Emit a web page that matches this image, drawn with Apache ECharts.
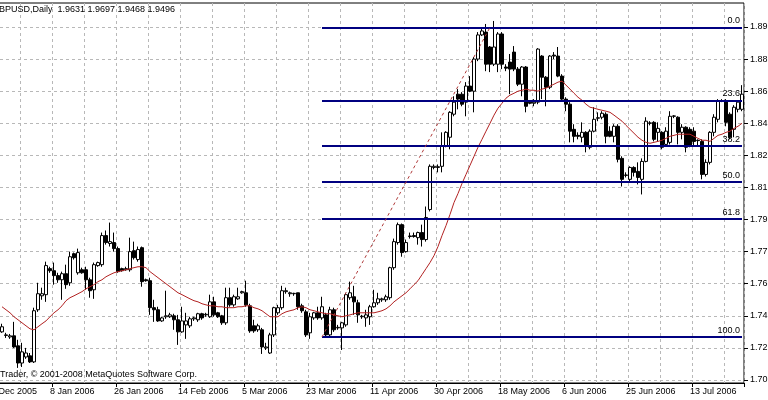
<!DOCTYPE html>
<html>
<head>
<meta charset="utf-8">
<title>GBPUSD Daily</title>
<script src="https://cdn.jsdelivr.net/npm/echarts@6/dist/echarts.min.js"></script>
<style>
  html, body { margin: 0; padding: 0; background: #fff; }
  #chart { width: 768px; height: 400px; }
</style>
</head>
<body>
<div id="chart"></div>
<script>
// daily bars, Sunday to Friday (no Saturday bars). The first three bars sit left of the frame.
const firstDay = new Date(2005, 11, 20)
const barCount = 189
const hiddenBars = 3
const monthNames = ['Jan', 'Feb', 'Mar', 'Apr', 'May', 'Jun', 'Jul', 'Aug', 'Sep', 'Oct', 'Nov', 'Dec']

const dates = []
for (let d = new Date(firstDay); dates.length < barCount; d.setDate(d.getDate() + 1)) {
  if (d.getDay() === 6) continue
  dates.push(d.getDate() + ' ' + monthNames[d.getMonth()] + ' ' + d.getFullYear())
}

// visible bars, 23 Dec 2005 .. 27 Jul 2006
const openP = [
  1.7255, 1.7236, 1.7228, 1.7234, 1.7181, 1.7090, 1.7122, 1.7128, 1.7096, 1.7372, 1.7446, 1.7452,
  1.7590, 1.7579, 1.7553, 1.7531, 1.7563, 1.7515, 1.7669, 1.7568, 1.7584, 1.7584, 1.7531, 1.7478,
  1.7606, 1.7611, 1.7765, 1.7723, 1.7728, 1.7696, 1.7590, 1.7584, 1.7584, 1.7685, 1.7638, 1.7701,
  1.7531, 1.7526, 1.7383, 1.7372, 1.7313, 1.7335, 1.7335, 1.7340, 1.7319, 1.7255, 1.7292, 1.7287,
  1.7324, 1.7319, 1.7351, 1.7345, 1.7335, 1.7414, 1.7356, 1.7340, 1.7303, 1.7436, 1.7398, 1.7430,
  1.7462, 1.7462, 1.7393, 1.7287, 1.7266, 1.7266, 1.7170, 1.7143, 1.7239, 1.7356, 1.7383, 1.7468,
  1.7457, 1.7457, 1.7462, 1.7393, 1.7361, 1.7250, 1.7329, 1.7356, 1.7329, 1.7345, 1.7239, 1.7372,
  1.7276, 1.7276, 1.7292, 1.7436, 1.7441, 1.7409, 1.7335, 1.7329, 1.7335, 1.7388, 1.7409, 1.7425,
  1.7425, 1.7436, 1.7595, 1.7728, 1.7823, 1.7680, 1.7760, 1.7765, 1.7754, 1.7781, 1.7744, 1.7903,
  1.8126, 1.8126, 1.8132, 1.8238, 1.8286, 1.8408, 1.8514, 1.8514, 1.8472, 1.8557, 1.8530, 1.8700,
  1.8828, 1.8843, 1.8764, 1.8673, 1.8673, 1.8833, 1.8658, 1.8684, 1.8737, 1.8647, 1.8567, 1.8658,
  1.8472, 1.8466, 1.8472, 1.8716, 1.8604, 1.8551, 1.8721, 1.8716, 1.8610, 1.8488, 1.8461, 1.8328,
  1.8296, 1.8286, 1.8312, 1.8233, 1.8318, 1.8387, 1.8392, 1.8408, 1.8318, 1.8291, 1.8344, 1.8174,
  1.8084, 1.8063, 1.8126, 1.8105, 1.8063, 1.8158, 1.8360, 1.8365, 1.8312, 1.8312, 1.8248, 1.8259,
  1.8397, 1.8392, 1.8312, 1.8339, 1.8328, 1.8318, 1.8270, 1.8264, 1.8089, 1.8153, 1.8312, 1.8381,
  1.8477, 1.8477, 1.8408, 1.8328, 1.8434, 1.8434
]
const closeP = [
  1.7282, 1.7239, 1.7234, 1.7175, 1.7090, 1.7149, 1.7143, 1.7096, 1.7367, 1.7457, 1.7457, 1.7606,
  1.7579, 1.7553, 1.7531, 1.7563, 1.7505, 1.7653, 1.7648, 1.7675, 1.7568, 1.7531, 1.7473, 1.7611,
  1.7622, 1.7765, 1.7728, 1.7733, 1.7696, 1.7574, 1.7579, 1.7590, 1.7680, 1.7648, 1.7691, 1.7521,
  1.7526, 1.7383, 1.7372, 1.7313, 1.7329, 1.7340, 1.7345, 1.7319, 1.7255, 1.7313, 1.7313, 1.7324,
  1.7329, 1.7351, 1.7329, 1.7348, 1.7414, 1.7345, 1.7335, 1.7303, 1.7436, 1.7398, 1.7441, 1.7441,
  1.7468, 1.7398, 1.7260, 1.7260, 1.7287, 1.7175, 1.7175, 1.7239, 1.7383, 1.7383, 1.7473, 1.7473,
  1.7462, 1.7459, 1.7388, 1.7367, 1.7239, 1.7335, 1.7356, 1.7329, 1.7388, 1.7239, 1.7372, 1.7266,
  1.7279, 1.7303, 1.7452, 1.7462, 1.7414, 1.7345, 1.7338, 1.7345, 1.7388, 1.7409, 1.7430, 1.7430,
  1.7441, 1.7595, 1.7733, 1.7823, 1.7675, 1.7728, 1.7763, 1.7760, 1.7781, 1.7744, 1.7861, 1.8132,
  1.8132, 1.8130, 1.8238, 1.8312, 1.8418, 1.8472, 1.8488, 1.8461, 1.8557, 1.8530, 1.8700, 1.8828,
  1.8849, 1.8673, 1.8673, 1.8764, 1.8833, 1.8673, 1.8652, 1.8647, 1.8647, 1.8567, 1.8658, 1.8450,
  1.8466, 1.8472, 1.8753, 1.8604, 1.8551, 1.8716, 1.8716, 1.8610, 1.8488, 1.8461, 1.8318, 1.8291,
  1.8291, 1.8312, 1.8238, 1.8318, 1.8381, 1.8389, 1.8413, 1.8291, 1.8291, 1.8344, 1.8169, 1.8063,
  1.8086, 1.8126, 1.8100, 1.8073, 1.8158, 1.8371, 1.8362, 1.8275, 1.8333, 1.8233, 1.8318, 1.8397,
  1.8399, 1.8312, 1.8339, 1.8233, 1.8238, 1.8264, 1.8268, 1.8089, 1.8153, 1.8312, 1.8392, 1.8477,
  1.8479, 1.8365, 1.8286, 1.8445, 1.8472, 1.8514
]
const lowP = [
  1.7250, 1.7223, 1.7218, 1.7170, 1.7064, 1.7069, 1.7112, 1.7090, 1.7090, 1.7361, 1.7425, 1.7414,
  1.7568, 1.7505, 1.7515, 1.7425, 1.7483, 1.7499, 1.7638, 1.7558, 1.7563, 1.7478, 1.7436, 1.7430,
  1.7600, 1.7600, 1.7717, 1.7707, 1.7680, 1.7568, 1.7574, 1.7579, 1.7574, 1.7638, 1.7627, 1.7494,
  1.7521, 1.7345, 1.7308, 1.7308, 1.7308, 1.7324, 1.7329, 1.7266, 1.7186, 1.7250, 1.7218, 1.7276,
  1.7313, 1.7308, 1.7319, 1.7335, 1.7329, 1.7335, 1.7329, 1.7292, 1.7292, 1.7388, 1.7388, 1.7425,
  1.7457, 1.7388, 1.7250, 1.7250, 1.7255, 1.7138, 1.7159, 1.7138, 1.7228, 1.7345, 1.7372, 1.7457,
  1.7441, 1.7446, 1.7372, 1.7356, 1.7228, 1.7218, 1.7319, 1.7319, 1.7319, 1.7228, 1.7228, 1.7255,
  1.7266, 1.7159, 1.7282, 1.7425, 1.7345, 1.7303, 1.7324, 1.7282, 1.7292, 1.7383, 1.7398, 1.7414,
  1.7414, 1.7425, 1.7584, 1.7717, 1.7653, 1.7675, 1.7749, 1.7754, 1.7717, 1.7707, 1.7733, 1.7893,
  1.8116, 1.8100, 1.8100, 1.8233, 1.8222, 1.8397, 1.8434, 1.8450, 1.8397, 1.8525, 1.8418, 1.8689,
  1.8822, 1.8636, 1.8631, 1.8663, 1.8631, 1.8647, 1.8636, 1.8514, 1.8636, 1.8557, 1.8503, 1.8418,
  1.8461, 1.8450, 1.8461, 1.8488, 1.8450, 1.8541, 1.8700, 1.8604, 1.8477, 1.8424, 1.8259, 1.8259,
  1.8275, 1.8259, 1.8206, 1.8222, 1.8312, 1.8371, 1.8381, 1.8254, 1.8286, 1.8259, 1.8153, 1.8025,
  1.8073, 1.8052, 1.8078, 1.8036, 1.7983, 1.8153, 1.8349, 1.8264, 1.8264, 1.8222, 1.8238, 1.8248,
  1.8387, 1.8248, 1.8275, 1.8206, 1.8233, 1.8238, 1.8238, 1.8063, 1.8078, 1.8142, 1.8291, 1.8365,
  1.8472, 1.8344, 1.8275, 1.8286, 1.8418, 1.8424
]
const highP = [
  1.7298, 1.7250, 1.7244, 1.7308, 1.7213, 1.7197, 1.7170, 1.7143, 1.7383, 1.7515, 1.7489, 1.7627,
  1.7600, 1.7622, 1.7568, 1.7574, 1.7611, 1.7680, 1.7675, 1.7696, 1.7595, 1.7600, 1.7542, 1.7622,
  1.7627, 1.7781, 1.7792, 1.7834, 1.7781, 1.7707, 1.7595, 1.7600, 1.7754, 1.7733, 1.7707, 1.7707,
  1.7537, 1.7542, 1.7425, 1.7388, 1.7335, 1.7473, 1.7356, 1.7351, 1.7345, 1.7388, 1.7356, 1.7335,
  1.7335, 1.7356, 1.7356, 1.7356, 1.7452, 1.7441, 1.7361, 1.7345, 1.7489, 1.7489, 1.7452, 1.7489,
  1.7473, 1.7526, 1.7404, 1.7319, 1.7298, 1.7276, 1.7197, 1.7250, 1.7388, 1.7398, 1.7499, 1.7489,
  1.7468, 1.7462, 1.7462, 1.7404, 1.7372, 1.7356, 1.7361, 1.7388, 1.7441, 1.7356, 1.7388, 1.7383,
  1.7292, 1.7308, 1.7462, 1.7521, 1.7499, 1.7425, 1.7345, 1.7372, 1.7398, 1.7478, 1.7462, 1.7436,
  1.7452, 1.7600, 1.7749, 1.7834, 1.7829, 1.7744, 1.7781, 1.7781, 1.7786, 1.7823, 1.7919, 1.8142,
  1.8142, 1.8142, 1.8312, 1.8318, 1.8424, 1.8503, 1.8541, 1.8525, 1.8578, 1.8610, 1.8711, 1.8843,
  1.8870, 1.8886, 1.8769, 1.8902, 1.8843, 1.8843, 1.8673, 1.8727, 1.8769, 1.8658, 1.8663, 1.8663,
  1.8477, 1.8488, 1.8758, 1.8721, 1.8610, 1.8721, 1.8737, 1.8764, 1.8620, 1.8498, 1.8472, 1.8355,
  1.8312, 1.8365, 1.8318, 1.8328, 1.8445, 1.8418, 1.8424, 1.8418, 1.8344, 1.8355, 1.8355, 1.8185,
  1.8100, 1.8132, 1.8132, 1.8153, 1.8174, 1.8392, 1.8371, 1.8371, 1.8365, 1.8318, 1.8339, 1.8424,
  1.8403, 1.8397, 1.8355, 1.8344, 1.8339, 1.8339, 1.8275, 1.8275, 1.8169, 1.8318, 1.8408, 1.8488,
  1.8488, 1.8488, 1.8418, 1.8456, 1.8482, 1.8562
]
// moving average line as drawn on the chart
const maP = [
  1.7388, 1.7372, 1.7356, 1.7335, 1.7319, 1.7303, 1.7287, 1.7271, 1.7266, 1.7282, 1.7298, 1.7313,
  1.7335, 1.7356, 1.7372, 1.7393, 1.7420, 1.7436, 1.7446, 1.7457, 1.7468, 1.7483, 1.7494, 1.7505,
  1.7521, 1.7531, 1.7547, 1.7558, 1.7568, 1.7574, 1.7579, 1.7584, 1.7590, 1.7595, 1.7600, 1.7600,
  1.7595, 1.7574, 1.7558, 1.7542, 1.7526, 1.7510, 1.7494, 1.7478, 1.7462, 1.7452, 1.7441, 1.7430,
  1.7420, 1.7414, 1.7404, 1.7398, 1.7393, 1.7393, 1.7388, 1.7388, 1.7383, 1.7383, 1.7383, 1.7388,
  1.7388, 1.7393, 1.7393, 1.7383, 1.7377, 1.7367, 1.7351, 1.7335, 1.7335, 1.7335, 1.7351, 1.7361,
  1.7367, 1.7372, 1.7383, 1.7388, 1.7383, 1.7372, 1.7367, 1.7361, 1.7356, 1.7351, 1.7351, 1.7345,
  1.7340, 1.7335, 1.7340, 1.7345, 1.7351, 1.7356, 1.7356, 1.7356, 1.7356, 1.7356, 1.7361, 1.7367,
  1.7377, 1.7393, 1.7414, 1.7430, 1.7446, 1.7462, 1.7483, 1.7505, 1.7526, 1.7558, 1.7590, 1.7622,
  1.7659, 1.7707, 1.7765, 1.7818, 1.7877, 1.7940, 1.7988, 1.8041, 1.8089, 1.8137, 1.8185, 1.8233,
  1.8275, 1.8318, 1.8360, 1.8403, 1.8440, 1.8466, 1.8493, 1.8509, 1.8519, 1.8530, 1.8535, 1.8541,
  1.8535, 1.8535, 1.8530, 1.8541, 1.8546, 1.8557, 1.8567, 1.8578, 1.8583, 1.8562, 1.8541, 1.8519,
  1.8498, 1.8482, 1.8461, 1.8445, 1.8440, 1.8434, 1.8429, 1.8424, 1.8418, 1.8403, 1.8387, 1.8371,
  1.8349, 1.8328, 1.8307, 1.8286, 1.8270, 1.8259, 1.8254, 1.8259, 1.8264, 1.8270, 1.8280, 1.8291,
  1.8296, 1.8302, 1.8302, 1.8302, 1.8302, 1.8291, 1.8280, 1.8270, 1.8270, 1.8264, 1.8280, 1.8296,
  1.8302, 1.8312, 1.8318, 1.8333, 1.8344, 1.8360
]

// price scale tick labels as printed on the chart, bottom to top
const yLabels = ['1.70', '1.72', '1.74', '1.76', '1.77', '1.79', '1.81', '1.82', '1.84', '1.86', '1.88', '1.89']
const yMin = 1.70
const yStep = 0.017

// fibonacci retracement drawn from the March low to the May high
const fibHigh = 1.8868
const fibLow = 1.7228
const fibLevels = [0, 23.6, 38.2, 50, 61.8, 100]
const fibStartDate = '27 Mar 2006'
const fibEndDate = '15 May 2006'

const font = 'Liberation Sans, Arial, sans-serif'
const gridLine = { color: '#b8b8b8', type: [3, 3], width: 1 }

const pad = new Array(hiddenBars).fill('-')
const candles = pad.map(() => ['-', '-', '-', '-']).concat(
  openP.map((o, k) => [o, closeP[k], lowP[k], highP[k]])
)
const maData = pad.concat(maP)
const lastDate = dates[dates.length - 1]

const fibLines = fibLevels.map(l => {
  const price = fibHigh - (fibHigh - fibLow) * l / 100
  return [
    { name: l.toFixed(1), coord: [fibStartDate, price] },
    { coord: [lastDate, price] }
  ]
})
fibLines.push([
  {
    coord: [fibStartDate, fibLow],
    lineStyle: { color: '#b03a3a', type: [3, 3], width: 1 },
    label: { show: false }
  },
  { coord: [fibEndDate, fibHigh] }
])

const chart = echarts.init(document.getElementById('chart'), null, { renderer: 'canvas' })

const option = {
  animation: false,
  backgroundColor: '#ffffff',
  textStyle: { fontFamily: font },
  title: [
    {
      text: 'GBPUSD,Daily  1.9631 1.9697 1.9468 1.9496',
      left: -8,
      top: 5,
      padding: 0,
      textStyle: { fontSize: 9, fontWeight: 'normal', color: '#000', fontFamily: font }
    },
    {
      text: 'Trader, © 2001-2008 MetaQuotes Software Corp.',
      left: 0,
      top: 370,
      padding: 0,
      textStyle: { fontSize: 9, fontWeight: 'normal', color: '#000', fontFamily: font }
    }
  ],
  grid: [
    // frame of the chart window
    { left: -12, right: 24, top: 3, bottom: 17, show: true, borderColor: '#000', borderWidth: 1, backgroundColor: 'transparent', outerBoundsMode: 'none' },
    // price area between the lowest and highest price grid lines
    { left: -12, right: 24, top: 27, bottom: 20, outerBoundsMode: 'none' }
  ],
  xAxis: [
    {
      type: 'category',
      gridIndex: 0,
      data: dates,
      axisLine: { lineStyle: { color: '#000', width: 1 } },
      axisTick: { show: true, interval: i => i % 16 === 0, length: 4, lineStyle: { color: '#000' } },
      axisLabel: {
        interval: i => i % 16 === 0,
        align: 'left',
        padding: [0, 0, 0, -4],
        margin: 4,
        color: '#000',
        fontSize: 9,
        fontFamily: font
      },
      splitLine: { show: true, interval: i => i % 8 === 0, lineStyle: gridLine }
    },
    { type: 'category', gridIndex: 1, data: dates, show: false }
  ],
  yAxis: [
    { type: 'value', gridIndex: 0, min: 0, max: 1, show: false, splitLine: { show: false } },
    {
      type: 'value',
      gridIndex: 1,
      position: 'right',
      min: yMin,
      max: yMin + yStep * (yLabels.length - 1),
      interval: yStep,
      axisLine: { show: false },
      axisTick: { show: true, length: 4, lineStyle: { color: '#000' } },
      axisLabel: {
        margin: 6,
        color: '#000',
        fontSize: 9,
        fontFamily: font,
        formatter: v => yLabels[Math.round((v - yMin) / yStep)] || ''
      },
      splitLine: { show: true, lineStyle: gridLine }
    }
  ],
  series: [
    {
      name: 'GBPUSD',
      type: 'candlestick',
      xAxisIndex: 1,
      yAxisIndex: 1,
      data: candles,
      barWidth: 3,
      clip: false,
      itemStyle: {
        color: '#ffffff',
        color0: '#000000',
        borderColor: '#000000',
        borderColor0: '#000000',
        borderColorDoji: '#000000',
        borderWidth: 1
      },
      markLine: {
        silent: true,
        animation: false,
        symbol: ['none', 'none'],
        lineStyle: { color: '#000080', width: 2, type: 'solid' },
        label: {
          show: true,
          position: 'insideEndTop',
          distance: 2,
          formatter: '{b}',
          color: '#000',
          fontSize: 9,
          fontFamily: font
        },
        emphasis: { disabled: true },
        data: fibLines
      }
    },
    {
      name: 'MA',
      type: 'line',
      xAxisIndex: 1,
      yAxisIndex: 1,
      data: maData,
      symbol: 'none',
      clip: false,
      lineStyle: { color: '#b22222', width: 1 }
    }
  ]
}

chart.setOption(option)
</script>
</body>
</html>
